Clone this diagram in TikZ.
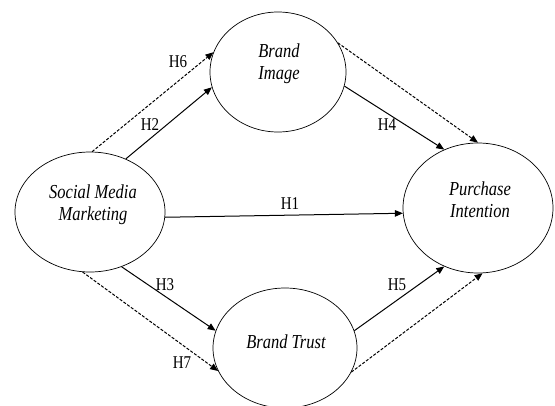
\documentclass[tikz,border=0pt]{standalone}
\usepackage{graphicx}
\usepackage{fontspec}
\setmainfont{Liberation Serif}
\usetikzlibrary{arrows.meta,shapes.geometric}
\newcommand{\vstretch}[1]{\scalebox{1}[1.2]{#1}}
\newcommand{\twolines}[2]{\vstretch{\begin{tabular}{@{}c@{}}#1\\#2\end{tabular}}}
\begin{document}
\begin{tikzpicture}[x=1pt,y=-1pt,
  ell/.style={draw, ellipse, line width=0.7pt, inner sep=0pt},
  etext/.style={inner sep=0pt, font=\fontsize{16.5}{18.3}\selectfont\itshape, align=center},
  arr/.style={line width=1pt, -{Triangle[length=8pt,width=6.5pt]}},
  darr/.style={arr, line width=1pt, dash pattern=on 3pt off 1.6pt},
  hlab/.style={font=\fontsize{15}{16}\selectfont, inner sep=0pt}]
\useasboundingbox (0,0) rectangle (555,405);
\node[ell, minimum width=136pt, minimum height=120pt] (bi) at (278,72) {};
\node[ell, minimum width=150pt, minimum height=120pt] (smm) at (90,212) {};
\node[ell, minimum width=150pt, minimum height=130pt] (pi) at (478,208) {};
\node[ell, minimum width=144pt, minimum height=120pt] (bt) at (285,348) {};
\node[etext] (bitxt) at (279,64) {\twolines{Brand}{Image}};
\node[etext] (smmtxt) at (93,205) {\twolines{Social Media}{Marketing}};
\node[etext] (pitxt) at (480,202) {\twolines{Purchase}{Intention}};
\node[etext] (bttxt) at (286,342) {\vstretch{Brand Trust}};
\draw[darr] (smm.88) -- (bi.163);
\draw[arr] (smm.56) -- (bi.193);
\draw[arr] (bi.-12) -- (pi.120);
\draw[darr] (bi.26) -- (pi.90);
\draw[arr] (smm.-4.6) -- (pi.184);
\draw[arr] (smm.-60) -- (bt.166);
\draw[darr] (smm.263) -- (bt.199);
\draw[arr] (bt.14) -- (pi.240);
\draw[darr] (bt.-20) -- (pi.274);
\node[hlab] (h6) at (178,62) {\vstretch{H6}};
\node[hlab] (h2) at (150,125) {\vstretch{H2}};
\node[hlab] (h4) at (387,125) {\vstretch{H4}};
\node[hlab] (h1) at (290,204) {\vstretch{H1}};
\node[hlab] (h3) at (165,285) {\vstretch{H3}};
\node[hlab] (h7) at (182,363) {\vstretch{H7}};
\node[hlab] (h5) at (397,285) {\vstretch{H5}};
\end{tikzpicture}
\end{document}
